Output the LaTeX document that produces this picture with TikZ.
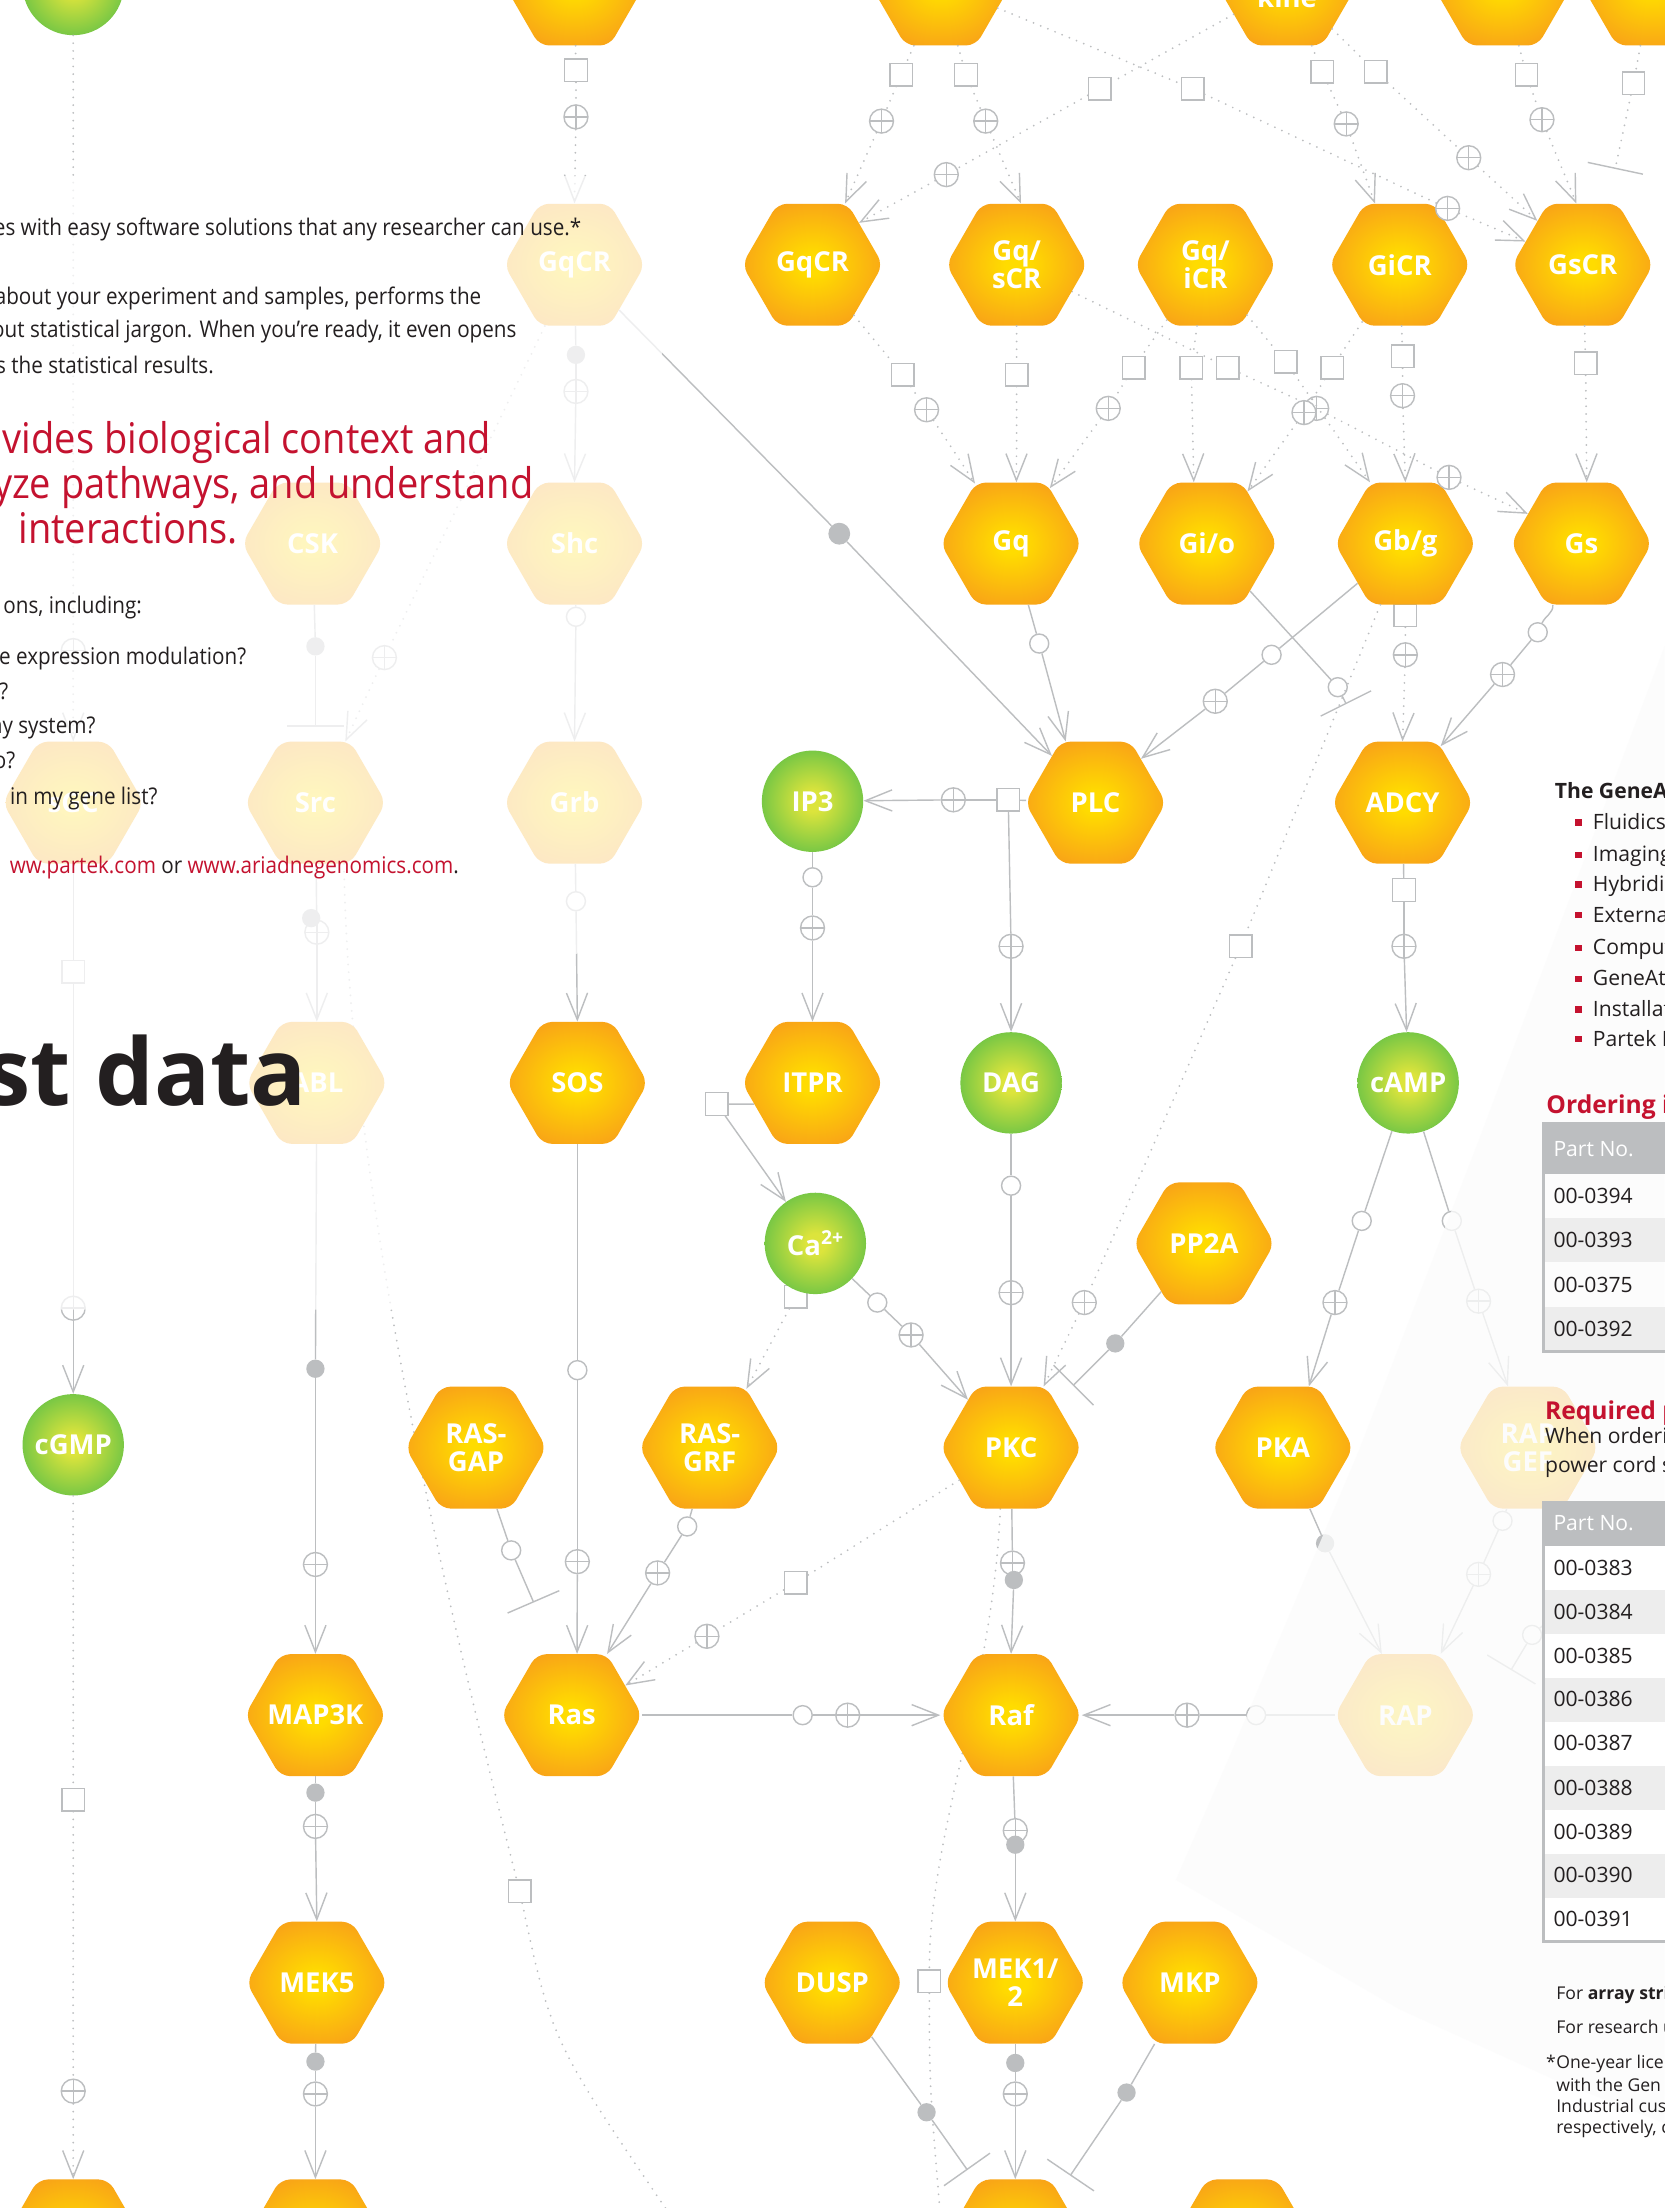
\documentclass[tikz,border=0pt]{standalone}
\usepackage{fontspec}
\setmainfont{Open Sans}
\newfontfamily\bodyf{Open Sans}[FakeStretch=0.9]
\usetikzlibrary{shapes.geometric,arrows.meta}
\definecolor{cgray}{HTML}{BCBEC0}
\definecolor{hexin}{HTML}{FFDC00}
\definecolor{hexout}{HTML}{F7931E}
\definecolor{grin}{HTML}{DCE43C}
\definecolor{grout}{HTML}{39B54A}
\definecolor{redc}{HTML}{C4122F}
\definecolor{dark}{HTML}{231F20}
\definecolor{rowgray}{HTML}{EDEDED}
\pgfdeclareradialshading{hexsh}{\pgfpoint{0bp}{0bp}}{color(0bp)=(hexin); color(4bp)=(hexin); color(34bp)=(hexout); color(80bp)=(hexout)}
\pgfdeclareradialshading{grsh}{\pgfpoint{0bp}{0bp}}{color(0bp)=(grin); color(5bp)=(grin); color(38bp)=(grout); color(80bp)=(grout)}
\pgfdeclarelayer{bg}
\pgfdeclarelayer{fg}
\pgfdeclarelayer{top}
\pgfsetlayers{bg,main,fg,top}
\newcommand{\hexfont}{\fontsize{19.5}{20}\selectfont\bfseries}
\begin{document}
\begin{tikzpicture}[x=1pt,y=-1pt,
  hexn/.style={regular polygon, regular polygon sides=6, minimum size=100pt, inner sep=0pt, rounded corners=7pt, shade, shading=hexsh},
  hexlab/.style={text=white, font=\hexfont, align=center, inner sep=0pt},
  gcirc/.style={circle, minimum size=72pt, inner sep=0pt, shade, shading=grsh, text=white, font=\hexfont},
  con/.style={draw=cgray, line width=1pt},
  dotl/.style={draw=cgray, line width=1.4pt, dash pattern=on 0pt off 5.5pt, line cap=round},
  arr/.style={-{Straight Barb[length=19pt,width=15pt,line width=1pt]}},
  inh/.style={-{Bar[width=40pt,line width=1pt]}},
  oc/.style={circle, draw=cgray, line width=1pt, fill=white, minimum size=13.5pt, inner sep=0pt},
  pc/.style={circle, draw=cgray, line width=1pt, fill=white, minimum size=17pt, inner sep=0pt,
    path picture={\draw[cgray,line width=1pt] (path picture bounding box.north) -- (path picture bounding box.south) (path picture bounding box.west) -- (path picture bounding box.east);}},
  sqn/.style={rectangle, draw=cgray, line width=1pt, fill=white, minimum size=16pt, inner sep=0pt},
  dt/.style={circle, fill=cgray, minimum size=13pt, inner sep=0pt},
  btxt/.style={font=\bodyf\fontsize{16.3}{19}\selectfont, text=dark, inner sep=0pt, anchor=base east},
  rtxt/.style={font=\bodyf\fontsize{30}{32}\selectfont, text=redc, inner sep=0pt, anchor=base east},
  ptxt/.style={font=\fontsize{15}{17}\selectfont, text=dark, inner sep=0pt, anchor=base west},
  ftxt/.style={font=\fontsize{12.5}{15}\selectfont, text=dark, inner sep=0pt, anchor=base west},
  bul/.style={rectangle, fill=redc, minimum size=4.5pt, inner sep=0pt}
]
\useasboundingbox (0,0) rectangle (1182,1568);
\begin{pgfonlayer}{bg}
\fill[white] (0,0) rectangle (1182,1568);
\end{pgfonlayer}

% ---------- hexagons ----------
\node[hexn] (hTA) at (408,-11) {};
\node[hexn] (hTB) at (668,-11) {};
\node[hexn] (hTK) at (914,-11) {};
\node[hexn] (hTD) at (1067,-11) {};
\node[hexn] (hTE) at (1173,-11) {};
\node[hexlab, anchor=base] (kineL) at (914,5) {kine};
\node[gcirc] (topG) at (52,-11) {};

\node[hexn, label={[hexlab]center:GqCR}] (fGqCR) at (408,188) {};
\node[hexn, label={[hexlab]center:GqCR}] (GqCR) at (577,188) {};
\node[hexn, label={[hexlab]center:{Gq/\\sCR}}] (GqsCR) at (722,188) {};
\node[hexn, label={[hexlab]center:{Gq/\\iCR}}] (GqiCR) at (856,188) {};
\node[hexn, label={[hexlab]center:GiCR}] (GiCR) at (994,188) {};
\node[hexn, label={[hexlab]center:GsCR}] (GsCR) at (1124,188) {};

\node[hexn, label={[hexlab]center:CSK}] (fCSK) at (222,386) {};
\node[hexn, label={[hexlab]center:Shc}] (fShc) at (408,386) {};
\node[hexn, label={[hexlab]center:Gq}] (Gq) at (718,386) {};
\node[hexn, label={[hexlab]center:Gi/o}] (Gio) at (857,386) {};
\node[hexn, label={[hexlab]center:Gb/g}] (Gbg) at (998,386) {};
\node[hexn, label={[hexlab]center:Gs}] (Gs) at (1123,386) {};

\begin{pgfonlayer}{bg}
\node[sqn] (sqB5) at (998,437) {};
\node[sqn] (sqCa) at (565,921) {};
\end{pgfonlayer}

\node[hexn, label={[hexlab]center:sGC}] (fsGC) at (52,570) {};
\node[hexn, label={[hexlab]center:Src}] (fSrc) at (224,570) {};
\node[hexn, label={[hexlab]center:Grb}] (fGrb) at (408,570) {};
\node[gcirc] (IP3) at (577,569) {IP3};
\node[hexn, label={[hexlab]center:PLC}] (PLC) at (778,570) {};
\node[hexn, label={[hexlab]center:ADCY}] (ADCY) at (996,570) {};

\node[hexn, label={[hexlab]center:ABL}] (fBL) at (225,769) {};
\node[hexn, label={[hexlab]center:SOS}] (SOS) at (410,769) {};
\node[hexn, label={[hexlab]center:ITPR}] (ITPR) at (577,769) {};
\node[gcirc] (DAG) at (718,769) {DAG};
\node[gcirc] (cAMP) at (1000,769) {cAMP};

\node[gcirc] (Ca) at (579,883) {Ca\textsuperscript{2+}};
\node[hexn, label={[hexlab]center:PP2A}] (PP2A) at (855,883) {};

\node[gcirc] (cGMP) at (52,1026) {cGMP};
\node[hexn, label={[hexlab]center:{RAS-\\GAP}}] (RASGAP) at (338,1028) {};
\node[hexn, label={[hexlab]center:{RAS-\\GRF}}] (RASGRF) at (504,1028) {};
\node[hexn, label={[hexlab]center:PKC}] (PKC) at (718,1028) {};
\node[hexn, label={[hexlab]center:PKA}] (PKA) at (911,1028) {};
\node[hexn, label={[hexlab]center:{RAP\\GEF}}] (fRAPGEF) at (1085,1028) {};

\node[hexn, label={[hexlab]center:MAP3K}] (MAP3K) at (224,1218) {};
\node[hexn, label={[hexlab]center:Ras}] (Ras) at (406,1218) {};
\node[hexn, label={[hexlab]center:Raf}] (Raf) at (718,1218) {};
\node[hexn, label={[hexlab]center:RAP}] (fRAP) at (998,1218) {};

\node[hexn, label={[hexlab]center:MEK5}] (MEK5) at (225,1408) {};
\node[hexn, label={[hexlab]center:DUSP}] (DUSP) at (591,1408) {};
\node[hexn, label={[hexlab]center:{MEK1/\\2}}] (MEK12) at (721,1408) {};
\node[hexn, label={[hexlab]center:MKP}] (MKP) at (845,1408) {};

\node[hexn] (hBA) at (52,1591) {};
\node[hexn] (hBB) at (224,1591) {};
\node[hexn] (hBC) at (721,1591) {};
\node[hexn] (hBD) at (882,1591) {};

% ---------- decorations ----------
\node[sqn] (sqA1) at (409,50) {};   \node[pc] (pA1) at (409,83) {};
\node[sqn] (sqB1) at (640,53) {};   \node[pc] (pB1) at (626,86) {};
\node[sqn] (sqB2) at (686,53) {};   \node[pc] (pB2) at (700,86) {};
\node[sqn] (sqK1) at (781,63) {};   \node[pc] (pK1) at (672,124) {};
\node[sqn] (sqB3) at (847,63) {};   \node[pc] (pB3) at (1028,148) {};
\node[sqn] (sqK2) at (977,51) {};   \node[pc] (pK2) at (1043,112) {};
\node[sqn] (sqK3) at (939,51) {};   \node[pc] (pK3) at (956,88) {};
\node[sqn] (sqD1) at (1084,53) {};  \node[pc] (pD1) at (1095,85) {};
\node[sqn] (sqE1) at (1160,59) {};  \coordinate (barE) at (1147,120);

\node[sqn] (sqG1) at (641,266) {};  \node[pc] (pG1) at (658,291) {};
\node[sqn] (sqS1) at (722,266) {};
\node[sqn] (sqI1) at (805,261) {};  \node[pc] (pI1) at (787,290) {};
\node[sqn] (sqI2) at (846,261) {};
\node[sqn] (sqF1) at (872,261) {};  \node[pc] (pF1) at (935,290) {}; \node[pc] (pF2) at (1029,339) {};
\node[sqn] (sqC1) at (946,261) {};  \node[pc] (pC1) at (926,293) {};
\node[sqn] (sqC2) at (996,253) {};  \node[pc] (pC2) at (996,281) {};
\node[sqn] (sqI3) at (913,257) {};
\node[sqn] (sqR1) at (1126,258) {};

\node[oc] (oQ1) at (738,457) {};
\node[dt, minimum size=15.5pt] (dGP) at (596,379) {};
\node[oc] (oI1) at (950,488) {};    \coordinate (barI) at (956,500);
\node[oc] (oB1) at (903,465) {};    \node[pc] (pB4) at (863,498) {};
\node[oc] (oS1) at (1092,449) {};   \node[pc] (pS1) at (1067,479) {};
\node[pc] (pB5) at (998,465) {};
\node[sqn] (sqL1) at (881,672) {};  \node[pc] (pL1) at (770,925) {};

\node[sqn] (sqP1) at (716,568) {};  \node[pc] (pP1) at (677,568) {}; \node[pc] (pP2) at (718,672) {};
\node[oc] (oP1) at (577,623) {};    \node[pc] (pP3) at (577,659) {};
\node[sqn] (sqA2) at (997,632) {};  \node[pc] (pA2) at (997,672) {};
\node[pc] (pS2) at (225,662) {};    \node[dt] (dS1) at (221,652) {};
\node[dt] (dC1) at (224,459) {};    \coordinate (barC) at (224,516);
\node[pc] (pQ2) at (273,467) {};
\node[dt] (dQ3) at (409,252) {};    \node[pc] (pQ3) at (409,278) {};
\node[oc] (oH1) at (409,438) {};
\node[oc] (oG1) at (409,640) {};
\node[sqn] (sqL2) at (369,1343) {}; \coordinate (endL) at (478,1576);
\node[sqn] (sqD) at (660,1407) {};  \coordinate (endD) at (668,1576);
\node[sqn] (sqR) at (565,1124) {};  \node[pc] (pR) at (502,1162) {};
\node[sqn] (sqT) at (509,784) {};
\node[oc] (oCa) at (623,925) {};    \node[pc] (pCa) at (647,948) {};
\node[oc] (oD) at (718,842) {};     \node[pc] (pD) at (718,918) {};
\node[dt] (dPP) at (792,954) {};    \coordinate (barPP) at (762,984);
\node[oc] (oA1) at (967,867) {};    \node[pc] (pA3) at (948,925) {};
\node[oc] (oA2) at (1031,867) {};   \node[pc] (pA4) at (1050,924) {};
\node[oc] (oG2) at (1067,1080) {};  \node[pc] (pG2) at (1050,1118) {};
\coordinate (startX) at (1112,1140); \node[oc] (oX) at (1088,1161) {}; \coordinate (barX) at (1073,1186);
\node[dt] (dK) at (941,1096) {};
\node[oc] (oSO) at (410,973) {};    \node[pc] (pSO) at (410,1109) {};
\node[oc] (oGA) at (363,1101) {};   \coordinate (barGA) at (379,1138);
\node[oc] (oGR) at (488,1084) {};   \node[pc] (pGR) at (467,1117) {};
\node[oc] (oRR) at (570,1218) {};   \node[pc] (pRR) at (602,1218) {};
\node[oc] (oRF) at (892,1218) {};   \node[pc] (pRF) at (843,1218) {};
\node[pc] (pK5) at (719,1110) {};   \node[dt] (dK5) at (720,1122) {};
\node[dt] (dB) at (224,972) {};     \node[pc] (pB6) at (224,1111) {};
\node[sqn] (sqG) at (52,690) {};    \node[pc] (pG3) at (52,929) {};
\node[pc] (pT) at (52,462) {};
\node[sqn] (sqM) at (52,1278) {};   \node[pc] (pM) at (52,1485) {};
\node[dt] (dM1) at (224,1273) {};   \node[pc] (pM1) at (224,1297) {};
\node[dt] (dM2) at (224,1464) {};   \node[pc] (pM2) at (224,1487) {};
\node[pc] (pR1) at (721,1300) {};   \node[dt] (dR1) at (721,1310) {};
\node[dt] (dR2) at (721,1465) {};   \node[pc] (pR2) at (721,1487) {};
\node[dt] (dDU) at (658,1500) {};   \coordinate (barDU) at (687,1541);
\node[dt] (dMK) at (800,1486) {};   \coordinate (barMK) at (760,1545);

% ---------- connectors behind ----------
\begin{pgfonlayer}{bg}
\draw[dotl] (fSrc.-65) .. controls (248,850) and (320,1150) .. (sqL2);
\draw[dotl] (sqL2) .. controls (392,1450) .. (endL);
\draw[dotl] (PKC.-100) .. controls (705,1200) and (660,1300) .. (sqD);
\draw[dotl] (sqD) .. controls (660,1480) .. (endD);
\draw[dotl] (GqsCR) edge (sqF1) (sqF1) edge (pF1) (pF1) edge (pF2) (pF2) edge[arr] (Gs.151);
\end{pgfonlayer}

% ---------- connectors ----------
\draw[dotl] (hTA) edge (sqA1) (sqA1) edge (pA1) (pA1) edge[arr] (fGqCR.north);
\draw[dotl] (hTB) edge (sqB1) (sqB1) edge (pB1) (pB1) edge[arr] (GqCR.62);
\draw[dotl] (hTB) edge (sqB2) (sqB2) edge (pB2) (pB2) edge[arr] (GqsCR.86);
\draw[dotl] (hTK) edge (sqK1) (sqK1) edge (pK1) (pK1) edge[arr] (GqCR.42);
\draw[dotl] (hTB) edge (sqB3) (sqB3) edge (pB3) (pB3) edge[arr] (GsCR.158);
\draw[dotl] (hTK) edge (sqK2) (sqK2) edge (pK2) (pK2) edge[arr] (GsCR.136);
\draw[dotl] (hTK) edge (sqK3) (sqK3) edge (pK3) (pK3) edge[arr] (GiCR.112);
\draw[dotl] (hTD) edge (sqD1) (sqD1) edge (pD1) (pD1) edge[arr] (GsCR.96);
\draw[dotl] (hTE) edge (sqE1) (sqE1) edge[inh] (barE);

\draw[dotl] (GqCR) edge (sqG1) (sqG1) edge (pG1) (pG1) edge[arr] (Gq.121);
\draw[dotl] (GqsCR) edge (sqS1) (sqS1) edge[arr] (Gq.85);
\draw[dotl] (GqiCR) edge (sqI1) (sqI1) edge (pI1) (pI1) edge[arr] (Gq.55);
\draw[dotl] (GqiCR) edge (sqI2) (sqI2) edge[arr] (Gio.102);
\draw[dotl] (GiCR) edge (sqC1) (sqC1) edge (pC1) (pC1) edge[arr] (Gio.52);
\draw[dotl] (GiCR) edge (sqC2) (sqC2) edge (pC2) (pC2) edge[arr] (Gbg.north);
\draw[dotl] (GqiCR) edge (sqI3) (sqI3) edge[arr] (Gbg.120);
\draw[dotl] (GsCR) edge (sqR1) (sqR1) edge[arr] (Gs.85);

\draw[con] (Gq) edge (oQ1) (oQ1) edge[arr] (PLC.116);
\draw[con] (fGqCR) edge (dGP) (dGP) edge[arr] (PLC.133);
\draw[con] (Gio) edge (oI1) (oI1) edge[inh] (barI);
\draw[con] (Gbg) edge (oB1) (oB1) edge (pB4) (pB4) edge[arr] (PLC.44);
\draw[con] (Gs.-115) to[out=-85,in=65] (oS1);
\draw[con] (oS1) edge (pS1) (pS1) edge[arr] (ADCY.56);
\draw[dotl] (sqB5) edge (pB5) (pB5) edge[arr] (ADCY.north);
\draw[dotl] (Gbg) edge (sqL1) (sqL1) edge (pL1) (pL1) edge[arr] (PKC.62);

\draw[con] (PLC) edge (sqP1) (sqP1) edge (pP1) (pP1) edge[arr] (IP3);
\draw[con] (sqP1) edge (pP2) (pP2) edge[arr] (DAG);
\draw[con] (IP3) edge (oP1) (oP1) edge (pP3) (pP3) edge[arr] (ITPR.north);
\draw[con] (ADCY) edge (sqA2) (sqA2) edge (pA2) (pA2) edge[arr] (cAMP);
\draw[con] (fSrc) edge (pS2) (pS2) edge[arr] (fBL.north);
\draw[con] (fCSK) edge (dC1) (dC1) edge[inh] (barC);
\draw[dotl] (fGqCR) edge (pQ2) (pQ2) edge[arr] (fSrc.64);
\draw[con] (fGqCR) edge (dQ3) (dQ3) edge (pQ3) (pQ3) edge[arr] (fShc.north);
\draw[con] (fShc) edge (oH1) (oH1) edge[arr] (fGrb.north);
\draw[con] (fGrb) edge (oG1) (oG1) edge[arr] (SOS.north);

\draw[dotl] (PKC) edge (sqR) (sqR) edge (pR) (pR) edge[arr] (Ras.29);
\draw[dotl] (sqCa) edge[arr] (RASGRF.58);
\draw[con] (ITPR.200) -- (sqT);
\draw[con,arr] (sqT) -- (Ca);
\draw[con] (Ca) edge (oCa) (oCa) edge (pCa) (pCa) edge[arr] (PKC.132);
\draw[con] (DAG) edge (oD) (oD) edge (pD) (pD) edge[arr] (PKC.north);
\draw[con] (PP2A) edge (dPP) (dPP) edge[inh] (barPP);
\draw[con] (cAMP) edge (oA1) (oA1) edge (pA3) (pA3) edge[arr] (PKA.67);
\draw[con] (cAMP) edge (oA2) (oA2) edge (pA4) (pA4) edge[arr] (fRAPGEF.108);
\draw[con] (fRAPGEF) edge (oG2) (oG2) edge (pG2) (pG2) edge[arr] (fRAP.60);
\draw[con] (startX) edge (oX) (oX) edge[inh] (barX);
\draw[con] (PKA) edge (dK) (dK) edge[arr] (fRAP.111);
\draw[con] (SOS) edge (oSO) (oSO) edge (pSO) (pSO) edge[arr] (Ras.85);
\draw[con] (RASGAP) edge (oGA) (oGA) edge[inh] (barGA);
\draw[con] (RASGRF) edge (oGR) (oGR) edge (pGR) (pGR) edge[arr] (Ras.60);
\draw[con] (Ras) edge (oRR) (oRR) edge (pRR) (pRR) edge[arr] (Raf.west);
\draw[con] (fRAP) edge (oRF) (oRF) edge (pRF) (pRF) edge[arr] (Raf.east);
\draw[con] (PKC) edge (pK5) (dK5) edge[arr] (Raf.north);
\draw[con] (fBL) edge (dB) (dB) edge (pB6) (pB6) edge[arr] (MAP3K.north);
\draw[con] (fsGC) edge (sqG) (sqG) edge (pG3) (pG3) edge[arr] (cGMP);
\draw[dotl] (topG) edge (pT) (pT) edge[arr] (fsGC.north);
\draw[dotl] (cGMP) edge (sqM) (sqM) edge (pM) (pM) edge[arr] (hBA.north);
\draw[con] (MAP3K) edge (dM1) (dM1) edge (pM1) (pM1) edge[arr] (MEK5.north);
\draw[con] (MEK5) edge (dM2) (dM2) edge (pM2) (pM2) edge[arr] (hBB.north);
\draw[con] (Raf) edge (pR1) (dR1) edge[arr] (MEK12.north);
\draw[con] (MEK12) edge (dR2) (dR2) edge (pR2) (pR2) edge[arr] (hBC.north);
\draw[con] (DUSP) edge (dDU) (dDU) edge[inh] (barDU);
\draw[con] (MKP) edge (dMK) (dMK) edge[inh] (barMK);

% ---------- translucent panels ----------
\begin{pgfonlayer}{fg}
\fill[white, opacity=0.75] (-5,125) -- (470,125) -- (470,660) -- (330,700) -- (285,930) -- (-5,930) -- cycle;
\fill[black!1, opacity=0.78] (1200,452) -- (1182,459) -- (1050,810) -- (965,1030) -- (875,1243) -- (835,1335) -- (994,1427) -- (1104,1477) -- (1200,1515) -- cycle;
\end{pgfonlayer}

% ---------- texts ----------
\begin{pgfonlayer}{top}
\node[btxt] (t1) at (413,167) {es with easy software solutions that any researcher can use.*};
\node[btxt] (t2) at (342,216) {about your experiment and samples, performs the};
\node[btxt] (t3) at (367,240) {out statistical jargon. When you’re ready, it even opens};
\node[btxt] (t4) at (152,265) {s the statistical results.};
\node[rtxt] (t5) at (349,322) {vides biological context and};
\node[rtxt] (t6) at (379,354) {yze pathways, and understand};
\node[rtxt] (t7) at (169,386) {interactions.};
\node[btxt] (t8) at (101,436) {ons, including:};
\node[btxt] (t9) at (175,472) {e expression modulation?};
\node[btxt] (t10) at (6,497) {?};
\node[btxt] (t11) at (68,521) {ny system?};
\node[btxt] (t12) at (11,546) {o?};
\node[btxt] (t13) at (112,571) {in my gene list?};
\node[btxt] (t14) at (326,620) {\textcolor{redc}{ww.partek.com} or \textcolor{redc}{www.ariadnegenomics.com}.};
\node[font=\fontsize{66}{66}\selectfont\bfseries, text=dark, inner sep=0pt, anchor=base east] (t15) at (218,785) {st data};

% right panel
\node[ptxt, font=\fontsize{15}{17}\selectfont\bfseries] (r0) at (1104,567) {The GeneA};
\node[bul] (b1) at (1121,584) {};  \node[ptxt] (r1) at (1131,589) {Fluidics};
\node[bul] (b2) at (1121,607) {};  \node[ptxt] (r2) at (1131,612) {Imaging};
\node[bul] (b3) at (1121,628) {};  \node[ptxt] (r3) at (1131,633) {Hybridiz};
\node[bul] (b4) at (1121,650) {};  \node[ptxt] (r4) at (1131,655) {External};
\node[bul] (b5) at (1121,673) {};  \node[ptxt] (r5) at (1131,678) {Comput};
\node[bul] (b6) at (1121,695) {};  \node[ptxt] (r6) at (1131,700) {GeneAt};
\node[bul] (b7) at (1121,717) {};  \node[ptxt] (r7) at (1131,722) {Installat};
\node[bul] (b8) at (1121,738) {};  \node[ptxt] (r8) at (1131,743) {Partek E};
\node[ptxt, font=\fontsize{17.5}{20}\selectfont\bfseries, text=redc] (r9) at (1098,791) {Ordering i};

\fill[cgray] (1095,797) rectangle (1190,834);
\fill[rowgray] (1095,865) rectangle (1190,896);
\fill[rowgray] (1095,928) rectangle (1190,959);
\draw[cgray, line width=2pt] (1096,797) -- (1096,960) -- (1190,960);
\node[ptxt, text=white] (h1) at (1103,821) {Part No.};
\node[ptxt] (a1) at (1103,855) {00-0394};
\node[ptxt] (a2) at (1103,886) {00-0393};
\node[ptxt] (a3) at (1103,918) {00-0375};
\node[ptxt] (a4) at (1103,949) {00-0392};

\node[ptxt, font=\fontsize{17.5}{20}\selectfont\bfseries, text=redc] (r10) at (1097,1008) {Required p};
\node[ptxt] (r11) at (1097,1025) {When orderin};
\node[ptxt] (r12) at (1097,1046) {power cord s};

\fill[cgray] (1095,1066) rectangle (1190,1098);
\fill[white] (1095,1098) rectangle (1190,1379);
\fill[rowgray] (1095,1129.2) rectangle (1190,1160.4);
\fill[rowgray] (1095,1191.6) rectangle (1190,1222.8);
\fill[rowgray] (1095,1254) rectangle (1190,1285.2);
\fill[rowgray] (1095,1316.4) rectangle (1190,1347.6);
\draw[cgray, line width=2pt] (1096,1066) -- (1096,1379) -- (1190,1379);
\node[ptxt, text=white] (h2) at (1103,1087) {Part No.};
\node[ptxt] (c1) at (1103,1119) {00-0383};
\node[ptxt] (c2) at (1103,1150) {00-0384};
\node[ptxt] (c3) at (1103,1181) {00-0385};
\node[ptxt] (c4) at (1103,1212) {00-0386};
\node[ptxt] (c5) at (1103,1243) {00-0387};
\node[ptxt] (c6) at (1103,1275) {00-0388};
\node[ptxt] (c7) at (1103,1306) {00-0389};
\node[ptxt] (c8) at (1103,1337) {00-0390};
\node[ptxt] (c9) at (1103,1368) {00-0391};

\node[ftxt] (f1) at (1105,1420) {For \textbf{array stri}};
\node[ftxt] (f2) at (1105,1444) {For research u};
\node[ftxt, anchor=base east] (f3s) at (1105,1469) {*};
\node[ftxt] (f3) at (1105,1469) {One-year licen};
\node[ftxt] (f4) at (1105,1485) {with the Gen};
\node[ftxt] (f5) at (1105,1500) {Industrial cust};
\node[ftxt] (f6) at (1105,1515) {respectively, c};
\end{pgfonlayer}
\end{tikzpicture}
\end{document}
